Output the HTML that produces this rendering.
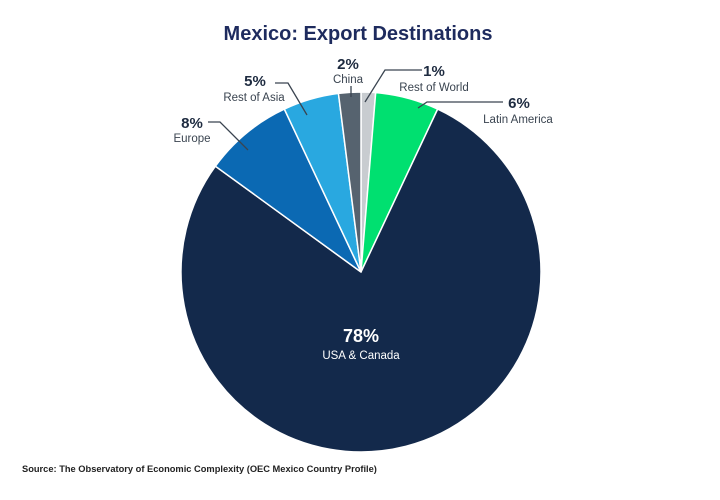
<!DOCTYPE html>
<html><head><meta charset="utf-8"><style>
body{margin:0;background:#fff;font-family:"Liberation Sans",sans-serif}
svg{display:block}
</style></head><body>
<svg id="chart" width="720" height="500">
<text x="358" y="40" text-anchor="middle" font-size="20" font-weight="bold" fill="#1e2b5e">Mexico: Export Destinations</text>
<g id="slices"></g>
<g id="labels" fill="#2b3440"></g>
<text x="22" y="472" font-size="9.3" font-weight="bold" fill="#222">Source: The Observatory of Economic Complexity (OEC Mexico Country Profile)</text>
</svg>
<script>
const categories=["Rest of World","Latin America","USA & Canada","Europe","Rest of Asia","China"];
const values=[1.3,5.7,78,8,5,2];
const labels=["1%","6%","78%","8%","5%","2%"];
const colors=["#c8ccd0","#00e070","#13294b","#0b69b3","#29a8e0","#56636f"];
const cx=361,cy=272,r=180;
const total=values.reduce((a,b)=>a+b,0);
const ns="http://www.w3.org/2000/svg";
const g=document.getElementById('slices');
function pt(a,rr){return [cx+rr*Math.sin(a),cy-rr*Math.cos(a)];}
let acc=0;
values.forEach((v,i)=>{
 const a0=acc/total*2*Math.PI;acc+=v;const a1=acc/total*2*Math.PI;
 const p0=pt(a0,r),p1=pt(a1,r);
 const p=document.createElementNS(ns,'path');
 p.setAttribute('d',`M${cx},${cy}L${p0[0]},${p0[1]}A${r},${r} 0 ${a1-a0>Math.PI?1:0} 1 ${p1[0]},${p1[1]}Z`);
 p.setAttribute('fill',colors[i]);p.setAttribute('stroke','#fff');p.setAttribute('stroke-width','1.5');
 
 
 g.appendChild(p);
});
const L=document.getElementById('labels');
const layout=[
 [434,76,434,91,"365,102 385,70 422,70"],
 [519,108,518,123,"418,108 427,102 503,102"],
 [361,342,361,359,null],
 [192,128,192,142,"248,150 220,122 208,122"],
 [255,86,254,101,"307,115 288,83 275,83"],
 [348,69,348,83,"351,97 351,86"]
];
layout.forEach((l,i)=>{
 if(l[4]){const pl=document.createElementNS(ns,'polyline');pl.setAttribute('points',l[4]);pl.setAttribute('fill','none');pl.setAttribute('stroke','#3a4450');pl.setAttribute('stroke-width','1.3');
 
 L.appendChild(pl);}
 const col=i===2?'#fff':'#1e2b40';
 const t=document.createElementNS(ns,'text');t.setAttribute('x',l[0]);t.setAttribute('y',l[1]);t.setAttribute('text-anchor','middle');t.setAttribute('font-size',i===2?'18':'15');t.setAttribute('font-weight','bold');t.setAttribute('fill',col);t.textContent=labels[i];
 
 L.appendChild(t);
 const n=document.createElementNS(ns,'text');n.setAttribute('x',l[2]);n.setAttribute('y',l[3]);n.setAttribute('text-anchor','middle');n.setAttribute('font-size','11.5');n.setAttribute('fill',i===2?'#fff':'#3a4450');n.textContent=categories[i];
 
 L.appendChild(n);
});
</script>
</body></html>
